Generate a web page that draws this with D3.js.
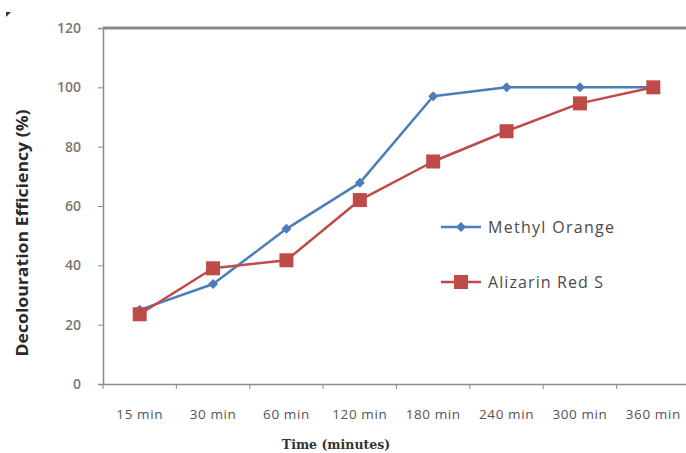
<!DOCTYPE html>
<html>
<head>
<meta charset="utf-8">
<script src="https://cdn.jsdelivr.net/npm/d3@7"></script>
<style>
  html, body { margin: 0; padding: 0; background: #fff; }
  svg { display: block; }
</style>
</head>
<body>
<svg id="chart" width="686" height="453"></svg>
<script>
// Time points and decolouration efficiency (%) for each dye
const categories = ["15 min", "30 min", "60 min", "120 min", "180 min", "240 min", "300 min", "360 min"];
const methylOrange = [25, 33.7, 52.3, 67.8, 97, 100, 100, 100];
const alizarinRedS = [23.5, 39, 41.7, 62, 75, 85.2, 94.6, 100];
const yTicks = [0, 20, 40, 60, 80, 100, 120];
const seriesNames = ["Methyl Orange", "Alizarin Red S"];
const seriesColors = ["#4a7ebb", "#be4b48"];

(function () {
const svg = d3.select("#chart");
const plotLeft = 103, plotRight = 690, plotTop = 28, plotBottom = 384;

const x = d3.scaleBand().domain(categories).range([plotLeft, plotRight]);
const y = d3.scaleLinear().domain([0, 120]).range([plotBottom, plotTop]);

const axisColor = "#8c8c8c";
const textColor = "#4a4a4a";
const sans = "Open Sans, DejaVu Sans, sans-serif";

// Top boundary line at 120
svg.append("line")
  .attr("x1", plotLeft).attr("x2", 686)
  .attr("y1", y(120)).attr("y2", y(120))
  .attr("stroke", "#8a8a8a").attr("stroke-width", 3);

// Y axis
const yAxis = svg.append("g")
  .attr("transform", `translate(${plotLeft},0)`)
  .call(d3.axisLeft(y).tickValues(yTicks).tickSize(5).tickPadding(17));
yAxis.select(".domain").attr("stroke", axisColor).attr("stroke-width", 1.5);
yAxis.selectAll(".tick line").attr("stroke", axisColor);
yAxis.selectAll(".tick text")
  .attr("font-family", sans)
  .attr("font-size", 14).attr("font-weight", 600).attr("fill", "#777");

// X axis
const xAxis = svg.append("g")
  .attr("transform", `translate(0,${plotBottom})`)
  .call(d3.axisBottom(x).tickSize(0).tickPadding(25));
xAxis.select(".domain").attr("stroke", axisColor).attr("stroke-width", 1.5);
xAxis.selectAll(".tick text")
  .attr("font-family", sans)
  .attr("font-size", 13.5).attr("letter-spacing", 0.6).attr("fill", "#555");

// Tick marks on category boundaries
svg.append("g").selectAll("line")
  .data(categories)
  .join("line")
  .attr("x1", d => x(d)).attr("x2", d => x(d))
  .attr("y1", plotBottom).attr("y2", plotBottom + 5)
  .attr("stroke", axisColor);

// Axis titles
svg.append("text")
  .attr("transform", `translate(28,233) rotate(-90)`)
  .attr("text-anchor", "middle")
  .attr("font-family", sans)
  .attr("font-size", 15.5).attr("font-weight", "bold")
  .attr("textLength", 247).attr("lengthAdjust", "spacingAndGlyphs")
  .attr("fill", "#2a2a2a")
  .text("Decolouration  Efficiency (%)");

svg.append("text")
  .attr("x", 336).attr("y", 449)
  .attr("text-anchor", "middle")
  .attr("font-family", "DejaVu Serif, Liberation Serif, serif")
  .attr("font-size", 12.5).attr("font-weight", "bold")
  .attr("fill", "#333")
  .text("Time (minutes)");

// Small corner mark
svg.append("path")
  .attr("d", "M6,12 L11,12 L6,17 Z")
  .attr("fill", "#333");

const cx = d => x(d) + x.bandwidth() / 2;
const line = d3.line().x(d => cx(d.c)).y(d => y(d.v));

const series = [methylOrange, alizarinRedS].map((vals, i) => ({
  name: seriesNames[i],
  color: seriesColors[i],
  points: categories.map((c, j) => ({ c, v: vals[j] }))
}));

function drawMarker(g, i, px, py, color) {
  if (i === 0) {
    const s = 5;
    g.append("path")
      .attr("d", `M${px},${py - s} L${px + s},${py} L${px},${py + s} L${px - s},${py} Z`)
      .attr("fill", color);
  } else {
    const s = 7;
    g.append("rect")
      .attr("x", px - s).attr("y", py - s)
      .attr("width", 2 * s).attr("height", 2 * s)
      .attr("fill", color);
  }
}

// Draw Methyl Orange first, Alizarin on top
series.forEach((s, i) => {
  const g = svg.append("g");
  g.append("path")
    .attr("d", line(s.points))
    .attr("fill", "none")
    .attr("stroke", s.color)
    .attr("stroke-width", 2.5)
    .attr("stroke-linejoin", "round");
  s.points.forEach(p => drawMarker(g, i, cx(p.c), y(p.v), s.color));
});

// Legend
const legendY = [227, 282];
const legendLen = [126, 115];
series.forEach((s, i) => {
  const g = svg.append("g");
  g.append("line")
    .attr("x1", 441).attr("x2", 481)
    .attr("y1", legendY[i]).attr("y2", legendY[i])
    .attr("stroke", s.color).attr("stroke-width", 2.5);
  drawMarker(g, i, 461, legendY[i], s.color);
  g.append("text")
    .attr("x", 488).attr("y", legendY[i] + 6)
    .attr("font-family", sans)
    .attr("font-size", 16).attr("fill", textColor)
    .attr("textLength", legendLen[i]).attr("lengthAdjust", "spacing")
    .text(s.name);
});
})();
</script>
</body>
</html>
